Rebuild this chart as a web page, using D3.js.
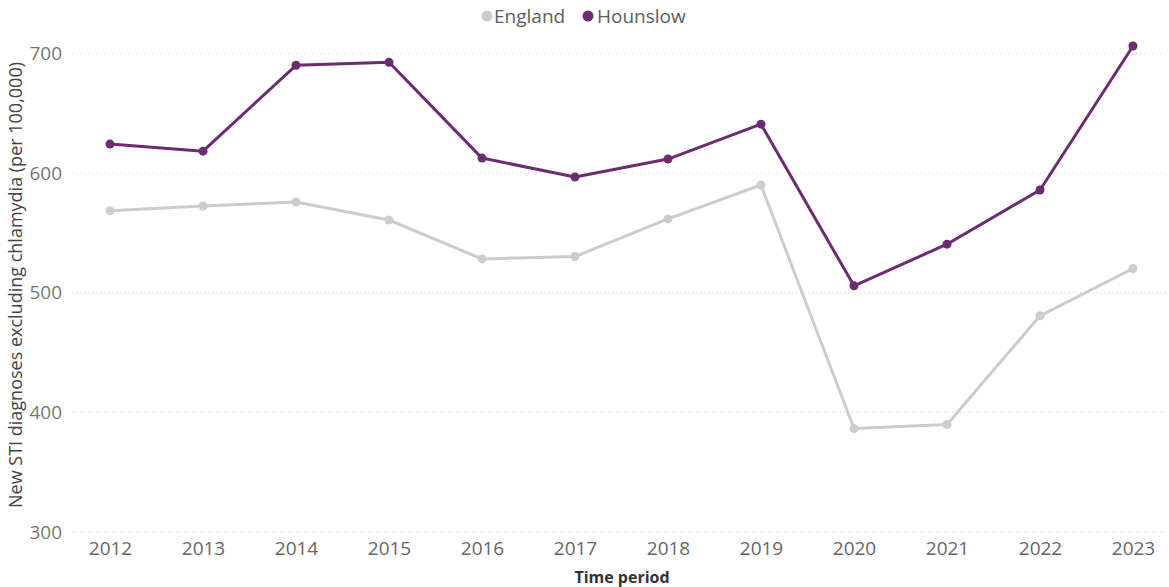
<!DOCTYPE html>
<html>
<head>
<meta charset="utf-8">
<script src="https://cdn.jsdelivr.net/npm/d3@7"></script>
<style>
  html, body { margin: 0; padding: 0; background: #fff; }
  svg { display: block; }
  text { font-family: "Open Sans", "Noto Sans", sans-serif; }
</style>
</head>
<body>
<svg id="chart" width="1169" height="587"></svg>
<script>
const years = ["2012","2013","2014","2015","2016","2017","2018","2019","2020","2021","2022","2023"];
const england = [568.6, 572.5, 575.8, 560.8, 528.3, 530.3, 561.7, 590.0, 386.7, 390.0, 480.8, 520.3];
const hounslow = [624.2, 618.3, 690.0, 692.5, 612.5, 596.7, 611.7, 640.8, 505.8, 540.6, 585.8, 706.1];
const yTicks = [300, 400, 500, 600, 700];
const seriesNames = ["England", "Hounslow"];
const seriesColors = ["#cccccc", "#6b2c70"];

const svg = d3.select("#chart");
const plotLeft = 72, plotRight = 1165;

const x = d3.scalePoint().domain(years).range([110, 1133]);
const y = d3.scaleLinear().domain([300, 700]).range([532.3, 53.3]);

// gridlines
svg.append("g").selectAll("line").data(yTicks).join("line")
  .attr("x1", plotLeft).attr("x2", plotRight)
  .attr("y1", d => y(d)).attr("y2", d => y(d))
  .attr("stroke", "#d2d0ce").attr("stroke-width", 1)
  .attr("stroke-dasharray", "1,3");

// y axis
const yAxis = d3.axisLeft(y).tickValues(yTicks).tickSize(0).tickPadding(0);
const gy = svg.append("g").attr("transform", `translate(62,0)`).call(yAxis);
gy.select(".domain").remove();
gy.selectAll("text").attr("font-size", 19).attr("fill", "#777777")
  .attr("font-family", '"Open Sans", sans-serif');

// x axis
const xAxis = d3.axisBottom(x).tickSize(0).tickPadding(0);
const gx = svg.append("g").attr("transform", `translate(0,541)`).call(xAxis);
gx.select(".domain").remove();
gx.selectAll("text").attr("font-size", 19).attr("fill", "#666666")
  .attr("font-family", '"Open Sans", sans-serif');

// axis titles
svg.append("text").attr("x", 622).attr("y", 583)
  .attr("text-anchor", "middle").attr("font-size", 16).attr("font-weight", "bold")
  .attr("fill", "#333333").text("Time period");
svg.append("text")
  .attr("transform", "translate(22,285) rotate(-90)")
  .attr("text-anchor", "middle").attr("font-size", 18)
  .attr("fill", "#444444").text("New STI diagnoses excluding chlamydia (per 100,000)");

// lines
const line = d3.line().x((d, i) => x(years[i])).y(d => y(d));
const allSeries = [england, hounslow];
allSeries.forEach((vals, si) => {
  svg.append("path").datum(vals)
    .attr("d", line).attr("fill", "none")
    .attr("stroke", seriesColors[si]).attr("stroke-width", 3)
    .attr("stroke-linejoin", "round");
  svg.append("g").selectAll("circle").data(vals).join("circle")
    .attr("cx", (d, i) => x(years[i])).attr("cy", d => y(d))
    .attr("r", 4.5).attr("fill", seriesColors[si]);
});

// legend
const legend = svg.append("g");
const legendItems = [{name: seriesNames[0], color: seriesColors[0], cx: 487, tx: 494},
                     {name: seriesNames[1], color: seriesColors[1], cx: 588, tx: 597}];
legendItems.forEach(it => {
  legend.append("circle").attr("cx", it.cx).attr("cy", 16).attr("r", 5.5).attr("fill", it.color);
  legend.append("text").attr("x", it.tx).attr("y", 23).attr("font-size", 19)
    .attr("fill", "#605e5c").text(it.name);
});
</script>
</body>
</html>
